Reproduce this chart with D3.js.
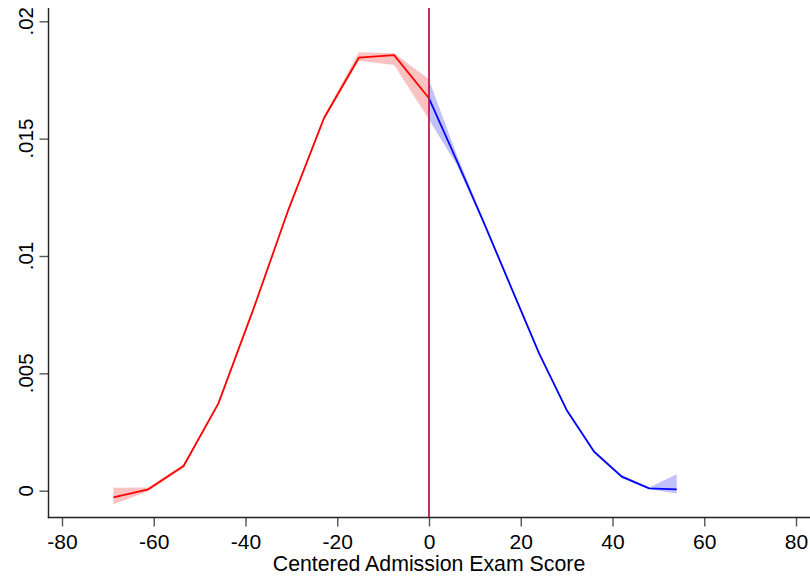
<!DOCTYPE html>
<html>
<head>
<meta charset="utf-8">
<script src="https://cdn.jsdelivr.net/npm/d3@7"></script>
<style>
  html, body { margin: 0; padding: 0; background: #fff; }
  svg { display: block; font-family: "Liberation Sans", Arial, Helvetica, sans-serif; }
</style>
</head>
<body>
<svg id="chart" width="810" height="577"></svg>
<script>
// ---- data ----
const redX  = [-68.8, -61.2, -53.5, -45.9, -38.2, -30.6, -22.9, -15.3, -7.6, 0];
const redY  = [-0.00028, 0.00006, 0.00105, 0.00372, 0.00778, 0.0120, 0.01587, 0.01845, 0.01856, 0.01672];
const redLo = [-0.00058, -0.00002, 0.00098, 0.00366, 0.00772, 0.01193, 0.01578, 0.01832, 0.01814, 0.01582];
const redHi = [0.00013, 0.00014, 0.00112, 0.00378, 0.00784, 0.01207, 0.01596, 0.01868, 0.01864, 0.01753];

const blueX  = [0, 6, 12, 18, 24, 30, 36, 42, 48, 54];
const blueY  = [0.01672, 0.01409, 0.0114, 0.00862, 0.00585, 0.00344, 0.00166, 0.0006, 0.0001, 0.00006];
const blueLo = [0.0158, 0.0139, 0.01132, 0.00856, 0.0058, 0.0034, 0.00162, 0.00055, 0.00006, -0.00012];
const blueHi = [0.0175, 0.01435, 0.01148, 0.00868, 0.0059, 0.00348, 0.0017, 0.00068, 0.00014, 0.0007];

const xTicks = [-80, -60, -40, -20, 0, 20, 40, 60, 80];
const yTicks = [0, 0.005, 0.01, 0.015, 0.02];
const yTickLabels = ["0", ".005", ".01", ".015", ".02"];
const cutoff = 0;
const xTitle = "Centered Admission Exam Score";

// ---- layout ----
const svg = d3.select("#chart");
const x = d3.scaleLinear().domain([-80, 80]).range([62, 796]);
const y = d3.scaleLinear().domain([0, 0.02]).range([490.7, 21.3]);
const axisY = 517.5, axisX = 48.5, topY = 8;

function band(xs, lo, hi, color) {
  const d = xs.map((v, i) => ({x: v, lo: lo[i], hi: hi[i]}));
  svg.append("path")
    .datum(d)
    .attr("fill", color)
    .attr("d", d3.area().x(p => x(p.x)).y0(p => y(p.lo)).y1(p => y(p.hi)));
}
function line(xs, ys, color) {
  const d = xs.map((v, i) => ({x: v, y: ys[i]}));
  svg.append("path")
    .datum(d)
    .attr("fill", "none")
    .attr("stroke", color)
    .attr("stroke-width", 1.8)
    .attr("stroke-linejoin", "round")
    .attr("d", d3.line().x(p => x(p.x)).y(p => y(p.y)));
}

band(redX, redLo, redHi, "rgba(245,110,110,0.42)");
band(blueX, blueLo, blueHi, "rgba(110,110,245,0.42)");
line(redX, redY, "#ff0000");
line(blueX, blueY, "#0000ff");

// cutoff line
svg.append("line")
  .attr("x1", x(cutoff)).attr("x2", x(cutoff))
  .attr("y1", topY).attr("y2", axisY)
  .attr("stroke", "#c8174a").attr("stroke-width", 1.8);

// y axis
const yAxis = svg.append("g").attr("transform", `translate(${axisX},0)`)
  .call(d3.axisLeft(y).tickValues(yTicks).tickSize(9).tickFormat(""));
yAxis.select(".domain").remove();
yAxis.selectAll(".tick line").attr("stroke", "#555").attr("stroke-width", 1.4);
svg.append("line").attr("x1", axisX).attr("x2", axisX).attr("y1", topY).attr("y2", axisY + 0.7)
  .attr("stroke", "#222").attr("stroke-width", 1.4);
yTicks.forEach((t, i) => {
  svg.append("text")
    .attr("transform", `translate(33,${y(t)}) rotate(-90)`)
    .attr("text-anchor", "middle")
    .attr("font-size", 20.5)
    .attr("fill", "#000")
    .text(yTickLabels[i]);
});

// x axis
const xAxis = svg.append("g").attr("transform", `translate(0,${axisY})`)
  .call(d3.axisBottom(x).tickValues(xTicks).tickSize(9).tickPadding(0).tickFormat(d3.format("d")));
xAxis.select(".domain").remove();
xAxis.selectAll(".tick line").attr("stroke", "#555").attr("stroke-width", 1.4);
xAxis.selectAll(".tick text").attr("font-size", 21).attr("fill", "#000")
  .attr("dy", null).attr("y", 31)
  .attr("font-family", "Liberation Sans, Arial, sans-serif")
  .text(d => d < 0 ? "-" + Math.abs(d) : d);
svg.append("line").attr("x1", axisX - 0.7).attr("x2", 810).attr("y1", axisY).attr("y2", axisY)
  .attr("stroke", "#222").attr("stroke-width", 1.4);

svg.append("text")
  .attr("x", x(0)).attr("y", 570.5)
  .attr("text-anchor", "middle")
  .attr("font-size", 21.3)
  .attr("fill", "#000")
  .text(xTitle);
</script>
</body>
</html>
